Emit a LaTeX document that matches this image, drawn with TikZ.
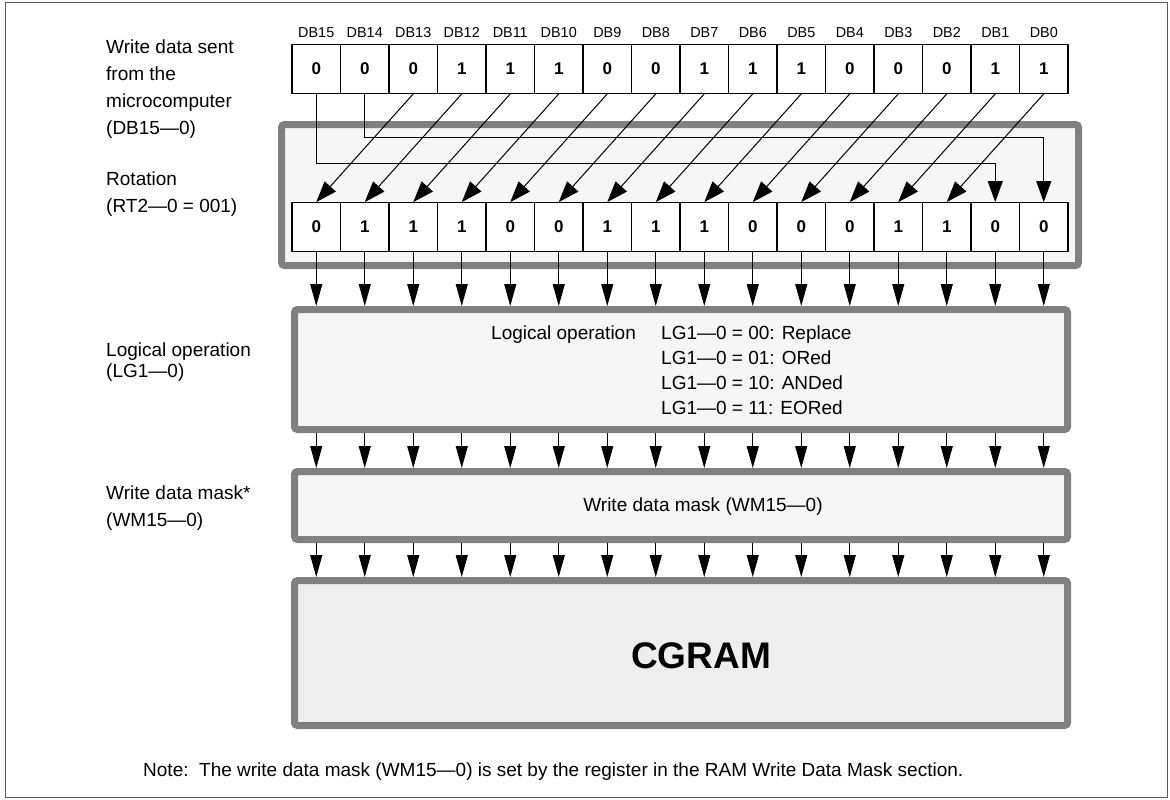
\documentclass[tikz,border=0pt]{standalone}
\usepackage{fontspec}
\setmainfont{Liberation Sans}
\usepackage{tikz}
\usetikzlibrary{arrows.meta, positioning, calc}
\definecolor{edgegray}{RGB}{128,128,128}
\definecolor{panelfill}{RGB}{246,246,246}
\definecolor{ramfill}{RGB}{238,238,238}
\tikzset{
  bitbox/.style={draw, line width=1.3pt, fill=white, minimum width=48.5pt, minimum height=48.5pt, inner sep=0pt, font=\fontsize{17}{17}\selectfont\bfseries},
  panel/.style={draw=edgegray, line width=7pt, fill=panelfill, rounded corners=3pt, inner sep=0pt},
  sidelabel/.style={anchor=base west, align=left, inner sep=0pt},
  wire/.style={line width=1pt, -{Triangle[length=22pt, width=12pt]}},
  swap/.style={line width=1pt, -{Triangle[length=21pt, width=15pt]}}
}

\begin{document}
\begin{tikzpicture}[x=1pt, y=-1pt, font=\fontsize{19}{26.7}\selectfont]
\useasboundingbox (0,0) rectangle (1170,800);
\draw[black!65, line width=1pt] (5.5,2.5) rectangle (1167.5,797.5);

\node[sidelabel] (lblin) at (106,134) {Write data sent\\from the\\microcomputer\\(DB15—0)};
\node[sidelabel] (lblrot) at (106,212) {Rotation\\(RT2—0 = 001)};
\node[sidelabel, font=\fontsize{19}{21}\selectfont] (lbllog) at (106,377) {Logical operation\\(LG1—0)};
\node[sidelabel] (lblmask) at (106,526) {Write data mask*\\(WM15—0)};

\node[panel, minimum width=797pt, minimum height=141pt] (rot) at (680,195) {};
\node[panel, minimum width=773pt, minimum height=120pt] (logic) at (681,369.5) {};
\node[panel, minimum width=773pt, minimum height=68pt] (mask) at (681,505.5) {};
\node[panel, fill=ramfill, minimum width=773pt, minimum height=145pt] (cgram) at (681,653) {};

\node[anchor=base west, inner sep=0pt] (lgname) at (491,339) {Logical operation};
\node[sidelabel, font=\fontsize{19}{25}\selectfont] (lgtable) at (661,414) {LG1—0 = 00: Replace\\LG1—0 = 01: ORed\\LG1—0 = 10: ANDed\\LG1—0 = 11: EORed};
\node (masktext) at (703,507) {Write data mask (WM15—0)};
\node[font=\fontsize{37}{37}\selectfont\bfseries] (ramtext) at (701,656) {CGRAM};
\node[anchor=base west, inner sep=0pt] (note) at (143,776) {Note:\ \ The write data mask (WM15—0) is set by the register in the RAM Write Data Mask section.};

\foreach \v [count=\i from 0] in {0,0,0,1,1,1,0,0,1,1,1,0,0,0,1,1} {
  \pgfmathtruncatemacro\db{15-\i}
  \node[bitbox] (t\i) at (316.25+48.5*\i,69) {\v};
  \node[anchor=base, font=\fontsize{14.4}{14.4}\selectfont] (db\i) at (316.25+48.5*\i,37.5) {DB\db};
}
\foreach \v [count=\i from 0] in {0,1,1,1,0,0,1,1,1,0,0,0,1,1,0,0}
  \node[bitbox] (r\i) at (316.25+48.5*\i,227) {\v};

\foreach \i in {2,...,15} {
  \pgfmathtruncatemacro\j{\i-2}
  \draw[swap] (t\i.south) -- (r\j.north);
}
\draw[swap] (t0.south) -- ++(0,70) -| (r14.north);
\draw[swap] (t1.south) -- ++(0,44) -| (r15.north);
\foreach \i in {0,...,15} {
  \draw[wire] (r\i.south) -- (r\i.south |- logic.north);
  \draw[wire] (r\i.south |- logic.south) -- (r\i.south |- mask.north);
  \draw[wire] (r\i.south |- mask.south) -- (r\i.south |- cgram.north);
}
\end{tikzpicture}
\end{document}
